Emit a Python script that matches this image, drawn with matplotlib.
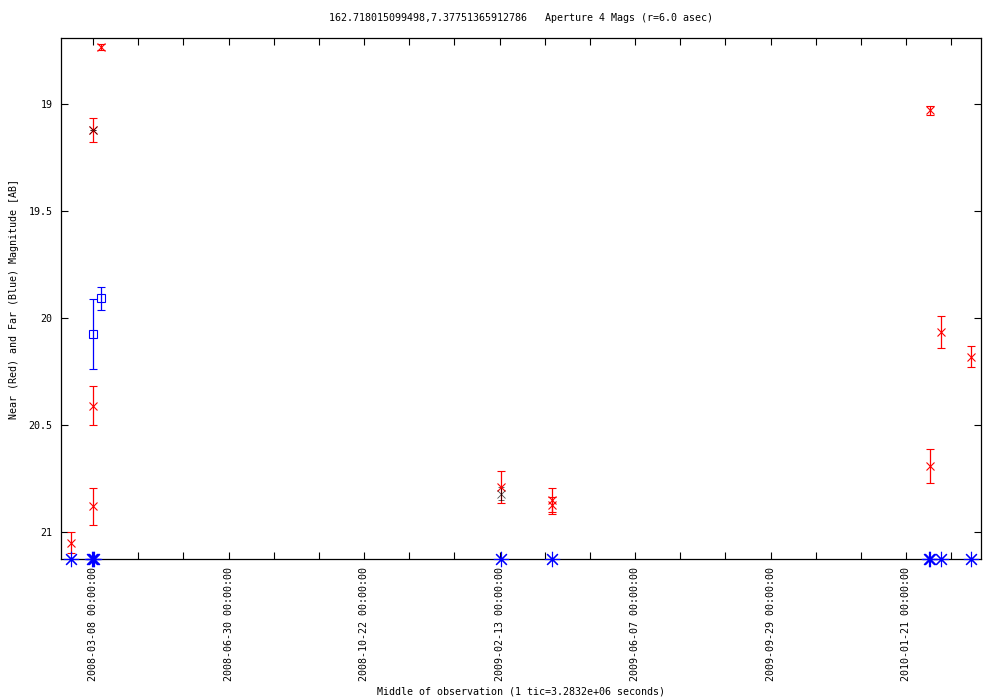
import datetime as dt
import matplotlib
matplotlib.use("Agg")
import matplotlib.pyplot as plt
import matplotlib.dates as mdates

plt.rcParams['font.family'] = ['DejaVu Sans Mono']
plt.rcParams['font.size'] = 7.2

# near (red) detections: date, magnitude, error
near_dates = ["2008-02-18", "2008-03-08", "2008-03-08", "2008-03-08", "2008-03-15",
              "2009-02-14", "2009-03-29", "2009-03-29",
              "2010-02-10", "2010-02-10", "2010-02-19", "2010-03-17"]
near_mags = [21.05, 20.88, 20.41, 19.12, 18.735,
             20.79, 20.85, 20.875,
             19.03, 20.69, 20.065, 20.18]
near_errs = [0.05, 0.085, 0.09, 0.056, 0.014,
             0.075, 0.058, 0.04,
             0.02, 0.08, 0.075, 0.047]

# black points
black_dates = ["2008-03-08", "2009-02-14"]
black_mags = [19.12, 20.82]
black_errs = [0.0, 0.03]

# far (blue) detections
far_dates = ["2008-03-08", "2008-03-15"]
far_mags = [20.075, 19.907]
far_errs = [0.164, 0.054]

# far (blue) non-detections, drawn at the lower edge
lim_dates = ["2008-02-18", "2008-03-07", "2008-03-08", "2008-03-09",
             "2009-02-14", "2009-03-29", "2010-02-09", "2010-02-10",
             "2010-02-19", "2010-03-17"]
lim_mags = [21.126] * 10

tick_start = "2008-03-08"
tick_step_days = 38
x_min, x_max = "2008-02-10", "2010-03-25"
y_top, y_bottom = 18.692, 21.126
y_ticks = [19, 19.5, 20, 20.5, 21]
y_tick_labels = ["19", "19.5", "20", "20.5", "21"]


def to_num(dates):
    return [mdates.date2num(dt.datetime.strptime(d, "%Y-%m-%d")) for d in dates]


fig = plt.figure(figsize=(10, 7), dpi=100)
ax = fig.add_axes([0.061, 0.2014, 0.92, 0.7443])

ax.errorbar(to_num(near_dates), near_mags, yerr=near_errs, fmt='x', color='red',
            ms=6, mew=0.8, elinewidth=0.9, capsize=3, capthick=0.9)
ax.errorbar(to_num(black_dates), black_mags, yerr=black_errs, fmt='x', color='black',
            ms=6, mew=0.6, elinewidth=0.7, capsize=2, capthick=0.7, alpha=0.7)
ax.errorbar(to_num(far_dates), far_mags, yerr=far_errs, fmt='s', color='blue',
            mfc='none', ms=5.5, mew=0.8, elinewidth=0.9, capsize=3, capthick=0.9)
ax.plot(to_num(lim_dates), lim_mags, ls='none', marker=(8, 2, 0), color='blue',
        ms=11, mew=0.8, clip_on=False, zorder=5)

ax.set_xlim(to_num([x_min])[0], to_num([x_max])[0])
ax.set_ylim(y_bottom, y_top)

# tics every 38 days, a label on every third one
t0 = to_num([tick_start])[0]
ticks = []
labels = []
t = t0
i = 0
while t <= ax.get_xlim()[1]:
    ticks.append(t)
    if i % 3 == 0:
        labels.append(mdates.num2date(t).strftime("%Y-%m-%d %H:%M:%S"))
    else:
        labels.append("")
    t += tick_step_days
    i += 1
ax.set_xticks(ticks)
ax.set_xticklabels(labels, rotation=90)
ax.set_yticks(y_ticks)
ax.set_yticklabels(y_tick_labels)

ax.tick_params(direction='in', length=5, width=0.8, top=True, right=True, pad=6)
for s in ax.spines.values():
    s.set_linewidth(0.9)

ax.set_title("162.718015099498,7.37751365912786   Aperture 4 Mags (r=6.0 asec)",
             fontsize=7.2, pad=12)
ax.set_xlabel("Middle of observation (1 tic=3.2832e+06 seconds)", labelpad=4)
ax.set_ylabel("Near (Red) and Far (Blue) Magnitude [AB]", labelpad=7)

fig.savefig("out.png", dpi=100)
